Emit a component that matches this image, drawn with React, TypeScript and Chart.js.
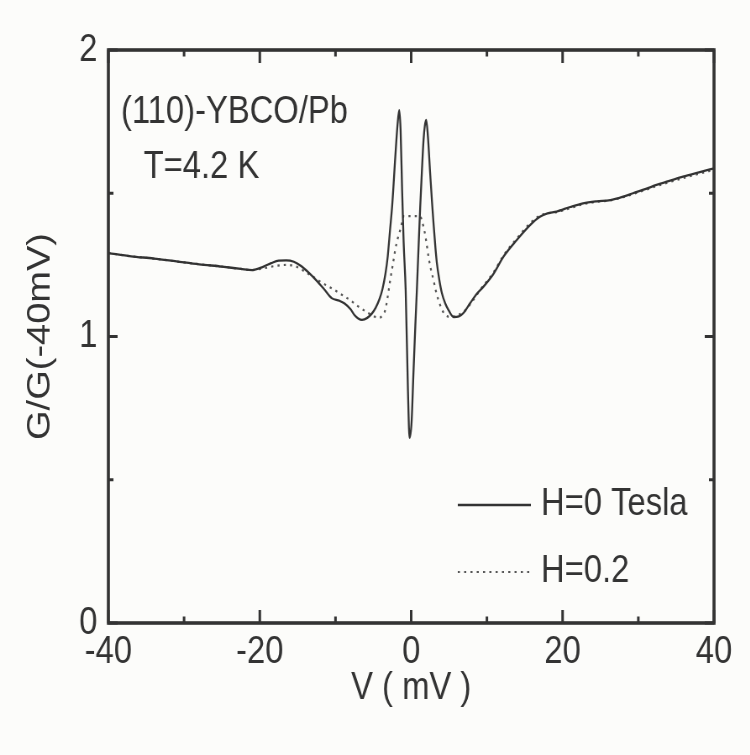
import React, { useEffect, useRef } from 'react';
import { Chart, registerables } from 'chart.js';
Chart.register(...registerables);

// ---- data ----
const vSolid = [-40,-37,-34,-31,-28,-25,-22.5,-21,-19.5,-18.5,-17.5,-16.5,-15.5,-14.5,-13.5,-12.5,-11.5,-10.5,-9.5,-8.8,-8,-7.5,-7,-6.5,-5.8,-5.2,-4.7,-4.2,-3.8,-3.4,-3.1,-2.8,-2.5,-2.1,-1.8,-1.58,-1.4,-1.2,-1,-0.73,-0.43,-0.22,0.05,0.3,0.55,0.75,1.0,1.19,1.4,1.63,1.8,1.98,2.2,2.5,2.75,2.95,3.2,3.39,3.7,4.05,4.5,4.93,5.6,6.3,6.9,7.8,8.7,9.55,10.9,12.2,13.95,15.7,17,18,19.2,21,22.7,24.5,26.3,28,29.3,31,32.4,34,35.9,38,40];
const gSolid = [1.291,1.28,1.272,1.262,1.252,1.244,1.236,1.232,1.244,1.256,1.265,1.266,1.261,1.245,1.222,1.195,1.165,1.134,1.125,1.115,1.095,1.075,1.063,1.058,1.065,1.08,1.1,1.13,1.165,1.22,1.28,1.37,1.46,1.627,1.74,1.79,1.72,1.51,1.33,1.16,0.81,0.646,0.7,0.873,1.04,1.162,1.33,1.452,1.57,1.686,1.735,1.756,1.7,1.571,1.47,1.396,1.31,1.257,1.2,1.152,1.115,1.092,1.068,1.07,1.082,1.117,1.15,1.174,1.22,1.279,1.337,1.389,1.418,1.43,1.436,1.452,1.465,1.472,1.476,1.488,1.5,1.515,1.529,1.542,1.558,1.573,1.587];

const vDotted = [-40,-37,-34,-31,-28,-25,-22.5,-21,-19.5,-18,-16.4,-15,-13.8,-12.9,-12,-10.3,-9,-8.05,-7,-5.85,-4.9,-4.3,-3.85,-3.43,-3.1,-2.77,-2.4,-2.11,-1.75,-1.45,-1.2,-1.01,1.19,1.45,1.72,2.0,2.29,2.6,2.95,3.25,3.6,4.05,4.49,5.37,6.2,6.9,8,9.1,10.9,12.2,13.95,15.7,17,18,19.2,21,22.7,24.5,26.3,28,29.3,31,32.4,34,35.9,38,40];
const gDotted = [1.291,1.28,1.272,1.262,1.252,1.244,1.236,1.232,1.238,1.246,1.25,1.242,1.222,1.208,1.191,1.165,1.143,1.127,1.105,1.085,1.07,1.065,1.072,1.092,1.14,1.197,1.255,1.302,1.345,1.372,1.4,1.42,1.42,1.4,1.372,1.33,1.277,1.235,1.197,1.16,1.127,1.095,1.075,1.068,1.075,1.085,1.12,1.162,1.225,1.283,1.342,1.395,1.422,1.43,1.434,1.448,1.462,1.47,1.475,1.486,1.497,1.512,1.525,1.538,1.553,1.568,1.582];

const seriesLabels = ['H=0 Tesla', 'H=0.2'];
const annotationLines = ['(110)-YBCO/Pb', 'T=4.2 K'];
const xTickValues = [-40, -30, -20, -10, 0, 10, 20, 30, 40];
const yTickValues = [0, 0.5, 1, 1.5, 2];
const xTitle = 'V ( mV )';
const yTitle = 'G/G(-40mV)';

// ---- styling ----
const SQUEEZE = 0.84;
const CW = 893;
const CH = 755;
const INK = '#333333';
const BG = '#fcfcfa';
const FONT = '"Liberation Sans", Arial, sans-serif';
const FS = 39;

const toPts = (xs: number[], ys: number[]) => xs.map((x, i) => ({ x, y: ys[i] }));

const decor = {
  id: 'decor',
  beforeDraw(chart: any) {
    const { ctx } = chart;
    ctx.save();
    ctx.fillStyle = BG;
    ctx.fillRect(0, 0, chart.width, chart.height);
    ctx.restore();
  },
  afterDraw(chart: any) {
    const { ctx, chartArea, scales } = chart;
    const { left, right, top, bottom } = chartArea;
    const xs = scales.x;
    const ys = scales.y;
    ctx.save();
    ctx.strokeStyle = INK;
    ctx.lineWidth = 3.6;
    ctx.strokeRect(left, top, right - left, bottom - top);

    ctx.lineWidth = 3;
    xTickValues.forEach((v) => {
      const px = xs.getPixelForValue(v);
      const len = v % 20 === 0 ? 13 : 6.5;
      ctx.beginPath();
      ctx.moveTo(px, bottom);
      ctx.lineTo(px, bottom - len);
      ctx.moveTo(px, top);
      ctx.lineTo(px, top + len);
      ctx.stroke();
    });
    yTickValues.forEach((v) => {
      const py = ys.getPixelForValue(v);
      const len = Number.isInteger(v) ? 11 : 6;
      ctx.beginPath();
      ctx.moveTo(left, py);
      ctx.lineTo(left + len, py);
      ctx.moveTo(right, py);
      ctx.lineTo(right - len, py);
      ctx.stroke();
    });

    // annotation text
    ctx.fillStyle = INK;
    ctx.font = `${FS}px ${FONT}`;
    ctx.textBaseline = 'alphabetic';
    ctx.textAlign = 'left';
    ctx.fillText(annotationLines[0], 144, 123);
    ctx.fillText(annotationLines[1], 171, 178);

    // legend
    const ds = chart.data.datasets;
    const legendRows = [
      { y: 505, text: 515 },
      { y: 572, text: 582 },
    ];
    legendRows.forEach((row, i) => {
      const d = ds[i];
      ctx.save();
      ctx.strokeStyle = d.borderColor;
      ctx.lineWidth = d.borderWidth;
      ctx.setLineDash(d.borderDash || []);
      ctx.beginPath();
      ctx.moveTo(545, row.y);
      ctx.lineTo(632, row.y);
      ctx.stroke();
      ctx.restore();
      ctx.fillText(d.label, 644, row.text);
    });
    ctx.restore();
  },
};

export default function App() {
  const ref = useRef<HTMLCanvasElement>(null);
  useEffect(() => {
    document.body.style.margin = '0';
    const chart = new Chart(ref.current as HTMLCanvasElement, {
      type: 'line',
      data: {
        datasets: [
          {
            label: seriesLabels[0],
            data: toPts(vSolid, gSolid),
            borderColor: INK,
            borderWidth: 2.3,
            pointRadius: 0,
            fill: false,
            cubicInterpolationMode: 'monotone',
          },
          {
            label: seriesLabels[1],
            data: toPts(vDotted, gDotted),
            borderColor: '#555555',
            borderWidth: 2.2,
            borderDash: [2.5, 5],
            pointRadius: 0,
            fill: false,
            cubicInterpolationMode: 'monotone',
          },
        ],
      } as any,
      options: {
        responsive: false,
        animation: false,
        devicePixelRatio: 1,
        layout: { padding: { left: 0, top: 50, right: 43, bottom: 0 } },
        plugins: { legend: { display: false }, tooltip: { enabled: false } },
        scales: {
          x: {
            type: 'linear',
            min: -40,
            max: 40,
            grid: { display: false, drawTicks: false },
            border: { display: false },
            afterFit: (s: any) => { s.height = 132; },
            ticks: {
              stepSize: 10,
              autoSkip: false,
              maxRotation: 0,
              padding: 6,
              color: INK,
              font: { family: FONT, size: FS },
              callback: (v: any) => (Number(v) % 20 === 0 ? String(v) : ''),
            },
            title: {
              display: true,
              text: xTitle,
              color: INK,
              font: { family: FONT, size: FS },
              padding: { top: 0, bottom: 43 },
            },
          },
          y: {
            type: 'linear',
            min: 0,
            max: 2,
            grid: { display: false, drawTicks: false },
            border: { display: false },
            afterFit: (s: any) => { s.width = 129; },
            ticks: {
              stepSize: 0.5,
              autoSkip: false,
              padding: 13,
              color: INK,
              font: { family: FONT, size: FS },
              callback: (v: any) => (Number.isInteger(Number(v)) ? String(v) : ''),
            },
            title: {
              display: true,
              text: yTitle,
              color: INK,
              font: { family: FONT, size: 38 },
              padding: { top: 26, bottom: 0 },
            },
          },
        },
      } as any,
      plugins: [decor],
    });
    return () => chart.destroy();
  }, []);
  return (
    <div style={{ position: 'relative', width: 750, height: 755, overflow: 'hidden', background: BG }}>
      <canvas
        ref={ref}
        width={CW}
        height={CH}
        style={{ position: 'absolute', left: 0, top: 0, width: CW, height: CH, transform: `scaleX(${SQUEEZE})`, transformOrigin: '0 0' }}
      />
    </div>
  );
}
